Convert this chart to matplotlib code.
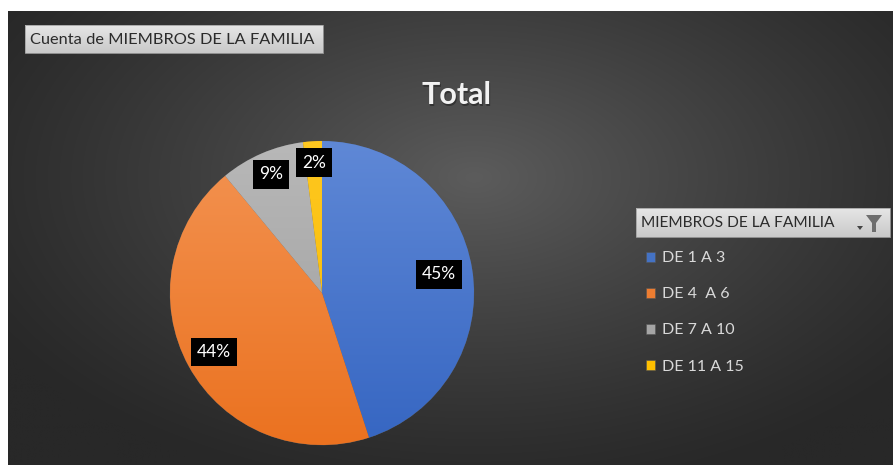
import numpy as np
import matplotlib
matplotlib.use("Agg")
import matplotlib.pyplot as plt
from matplotlib.patches import Rectangle, Polygon
from matplotlib.colors import LinearSegmentedColormap

# data
categories = ["DE 1 A 3", "DE 4  A 6", "DE 7 A 10", "DE 11 A 15"]
values = [45, 44, 9, 2]
labels_pct = ["45%", "44%", "9%", "2%"]
colors_top = ["#5f88d6", "#f39352", "#b8b8b8", "#ffc820"]
colors_bottom = ["#3666c2", "#eb7220", "#9c9c9c", "#f5b800"]
base_colors = ["#4472c4", "#ed7d31", "#a5a5a5", "#ffc000"]

title = "Total"
button_text = "Cuenta de MIEMBROS DE LA FAMILIA"
legend_title = "MIEMBROS DE LA FAMILIA"

FONT = ["Lato", "DejaVu Sans"]
plt.rcParams["font.family"] = FONT

W, H = 893, 465
fig = plt.figure(figsize=(W / 100, H / 100), dpi=100)
fig.patch.set_facecolor("white")

# background axes in pixel coords
bg = fig.add_axes([0, 0, 1, 1])
bg.axis("off")

yy, xx = np.mgrid[0:H, 0:W]
r = np.sqrt(((xx - 470) / 560.0) ** 2 + ((yy - 170) / 330.0) ** 2)
shade = np.clip(1 - r, 0, 1) ** 1.2
light = np.array([0x5c, 0x5c, 0x5c]) / 255
dark = np.array([0x28, 0x28, 0x28]) / 255
img = dark + (light - dark) * shade[..., None]
bg.imshow(img, extent=(8, W, H, 12), aspect="auto", zorder=0, interpolation="bilinear")
bg.set_xlim(0, W)
bg.set_ylim(H, 0)

# top-left button
grad = np.linspace(0, 1, 50)[:, None]
btn_cmap = LinearSegmentedColormap.from_list("btn", ["#e6e6e6", "#c9c9c9"])
bg.imshow(grad, extent=(25, 323, 53, 25), cmap=btn_cmap, aspect="auto", zorder=1)
bg.add_patch(Rectangle((25, 25), 298, 28, fill=False, ec="#a0a0a0", lw=0.6, zorder=2))
bg.text(30, 40, button_text, fontsize=11.8, color="#2b2b2b", va="center", ha="left", zorder=3)

# legend header button
bg.imshow(grad, extent=(636, 890, 237, 208), cmap=btn_cmap, aspect="auto", zorder=1)
bg.add_patch(Rectangle((636, 208), 254, 29, fill=False, ec="#a0a0a0", lw=0.6, zorder=2))
bg.text(641, 223, legend_title, fontsize=11.2, color="#2b2b2b", va="center", ha="left", zorder=3)
bg.add_patch(Polygon([[866, 215], [882, 215], [876, 223], [876, 232], [872, 232], [872, 223]],
                     closed=True, fc="#6e6e6e", ec="none", zorder=3))
bg.add_patch(Polygon([[857, 226], [863, 226], [860, 230]], closed=True, fc="#444444", ec="none", zorder=3))

# title with a soft shadow
shadow = bg.transData + matplotlib.transforms.ScaledTranslation(1.5 / 100, -1.5 / 100, fig.dpi_scale_trans)
bg.text(456, 95, title, fontsize=22, fontweight="bold", color="#333333", ha="center", va="center",
        zorder=3, transform=shadow)
bg.text(456, 95, title, fontsize=22, fontweight="bold", color="#f2f2f2", ha="center", va="center", zorder=4)

# pie axes
cx, cy, rad = 322, 293, 155
ax = fig.add_axes([(cx - rad) / W, 1 - (cy + rad) / H, 2 * rad / W, 2 * rad / H])
ax.set_facecolor("none")
wedges, _ = ax.pie(values, colors=base_colors, startangle=90, counterclock=False, radius=1,
                   wedgeprops=dict(edgecolor="#555555", linewidth=0.4))
ax.set_aspect("equal")
ax.axis("off")

# gradient fill for each wedge
g = np.linspace(0, 1, 200)[:, None]
for w, ct, cb in zip(wedges, colors_top, colors_bottom):
    cm = LinearSegmentedColormap.from_list("w", [ct, cb])
    im = ax.imshow(g, extent=(-1, 1, -1, 1), cmap=cm, aspect="auto", zorder=2)
    im.set_clip_path(w)
ax.set_xlim(-1.02, 1.02)
ax.set_ylim(-1.02, 1.02)

# data labels
dists = [0.78, 0.81, 0.85, 0.86]
for w, lab, d in zip(wedges, labels_pct, dists):
    ang = np.deg2rad((w.theta1 + w.theta2) / 2)
    ax.text(d * np.cos(ang), d * np.sin(ang), lab, fontsize=12.5, color="white", ha="center", va="center",
            zorder=5, bbox=dict(boxstyle="square,pad=0.35", fc="black", ec="none"))

# legend
leg = fig.legend(wedges, categories, loc="upper left", bbox_to_anchor=(640 / W, 1 - 245 / H),
                 frameon=False, fontsize=11.5, labelcolor="#d9d9d9", handlelength=0.55,
                 handleheight=0.55, handletextpad=0.45, labelspacing=1.38, borderaxespad=0)

fig.savefig("out.png", dpi=100, facecolor=fig.get_facecolor())
